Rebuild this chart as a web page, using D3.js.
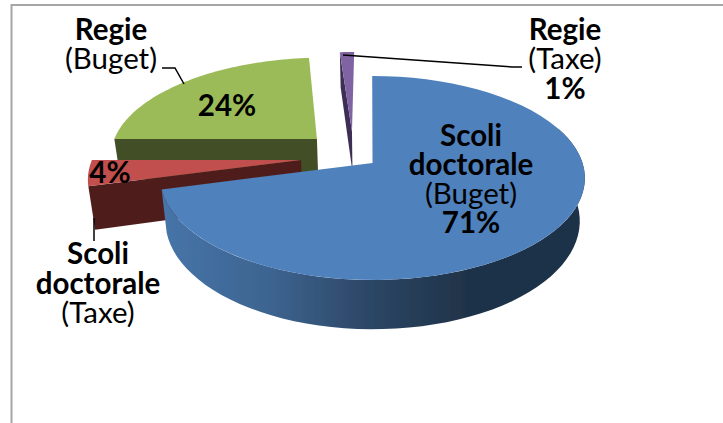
<!DOCTYPE html>
<meta charset="utf-8">
<style>
  html, body { margin: 0; padding: 0; background: #fff; }
  svg { display: block; }
  text { font-family: Lato, "Open Sans", sans-serif; font-size: 29.5px; fill: #000; text-anchor: middle; }
  .b { font-weight: 700; }
</style>
<div id="chart"></div>
<script src="https://d3js.org/d3.v7.min.js"></script>
<script>

// values (clockwise from 12 o'clock)
var names = ["Scoli doctorale", "Scoli doctorale", "Regie", "Regie"]
var funding = ["Buget", "Taxe", "Buget", "Taxe"]
var values = [70.9, 4.1, 23.7, 1.3]
var colors = ["#4f81bd", "#c0504d", "#9bbb59", "#8064a2"]
var sideColors = ["#1f3349", "#4f1f1e", "#424f25", "#3d2f55"]

// how far each slice is pulled out, in pie radii
var explodeX = [0.012, -0.33, -0.262, -0.09]
var explodeY = [0, -0.03, -0.249, -0.33]

var width = 723, height = 423

var svg = d3.select("#chart").append("svg")
    .attr("width", width)
    .attr("height", height)

// frame, only top and left are in the crop
svg.append("path")
    .attr("d", d3.line()([[11.5, height], [11.5, 5], [width, 5]]))
    .attr("fill", "none")
    .attr("stroke", "#a6a6a6")
    .attr("stroke-width", 2)

var defs = svg.append("defs")
defs.append("filter").attr("id", "soft")
  .append("feGaussianBlur").attr("stdDeviation", 0.5)

var wallFill = defs.append("linearGradient")
    .attr("id", "wallFill")
    .attr("gradientUnits", "userSpaceOnUse")
    .attr("x1", 165).attr("x2", 585).attr("y1", 0).attr("y2", 0)
wallFill.selectAll("stop")
  .data([[0, "#4674a8"], [0.25, "#3d6490"], [0.48, "#2c4766"], [0.72, "#1f3349"], [1, "#1f3349"]])
  .enter().append("stop")
    .attr("offset", function(d) { return d[0] })
    .attr("stop-color", function(d) { return d[1] })

// 3d view: a ground plane point goes through a perspective divide
var cx = 370, cy = 163, rx = 210, ry = 99.8, persp = 0.147, depth = 42
var vanishX = 373, bottomShrink = 0.976

function project(u, v, low) {
  var s = 1 / (1 - persp * v)
  var x = cx + rx * u * s
  var y = cy + ry * v * s
  if (low) {
    x = vanishX + (x - vanishX) * bottomShrink
    y = y + depth * s
  }
  return [x, y]
}

function rimPoint(i, a, low) {
  return project(Math.sin(a) + explodeX[i], -Math.cos(a) + explodeY[i], low)
}

function apex(i, low) { return project(explodeX[i], explodeY[i], low) }

function rim(i, a0, a1, low) {
  return d3.range(0, 61).map(function(k) {
    return rimPoint(i, a0 + (a1 - a0) * k / 60, low)
  })
}

var arcs = d3.pie().sort(null)(values)
var line = d3.line()
var marks = svg.append("g").attr("filter", "url(#soft)")

function addShape(points, fill) {
  marks.append("path").attr("d", line(points) + "Z").attr("fill", fill)
}

// back to front: purple, green, red, blue
var a

a = arcs[3]
addShape([apex(3), apex(3, true), rimPoint(3, a.startAngle, true), rimPoint(3, a.startAngle)], sideColors[3])
addShape([apex(3)].concat(rim(3, a.startAngle, a.endAngle)), colors[3])

a = arcs[2]
addShape([apex(2), apex(2, true), rimPoint(2, a.startAngle, true), rimPoint(2, a.startAngle)], sideColors[2])
addShape([apex(2)].concat(rim(2, a.startAngle, a.endAngle)), colors[2])

a = arcs[1]
addShape([apex(1), apex(1, true), rimPoint(1, a.startAngle, true), rimPoint(1, a.startAngle)], sideColors[1])
addShape([apex(1)].concat(rim(1, a.startAngle, a.endAngle)), colors[1])

a = arcs[0]
var wallTop = rim(0, a.endAngle, 1.2, false)
var wallLow = rim(0, 1.2, a.endAngle, true)
addShape(wallTop.concat(wallLow), "url(#wallFill)")
addShape([apex(0)].concat(rim(0, a.startAngle, a.endAngle)), colors[0])

// leader lines
var leaders = [
  [[162, 68], [175, 68], [184, 84]],
  [[343, 55], [513, 67], [522, 67]],
  [[94, 218], [94, 241]]
]
svg.selectAll(".leader")
  .data(leaders)
  .enter().append("path")
    .attr("class", "leader")
    .attr("d", function(d) { return line(d) })
    .attr("fill", "none")
    .attr("stroke", "#000")
    .attr("stroke-width", 1.5)

function pct(i) { return Math.round(values[i]) + "%" }
function paren(i) { return "(" + funding[i] + ")" }

// one text per label, one tspan per line: [text, bold?, baseline]
var labels = [
  { x: 471, lines: [["Scoli", true, 146], ["doctorale", true, 175], [paren(0), false, 204], [pct(0), true, 233]] },
  { x: 110, lines: [[pct(1), true, 183]] },
  { x: 98, lines: [["Scoli", true, 264], ["doctorale", true, 294], [paren(1), false, 323]] },
  { x: 111, lines: [[names[2], true, 40], [paren(2), false, 69]] },
  { x: 227, lines: [[pct(2), true, 116]] },
  { x: 565, lines: [[names[3], true, 40], [paren(3), false, 69], [pct(3), true, 99]] }
]
svg.selectAll(".lab")
  .data(labels)
  .enter().append("text")
    .attr("class", "lab")
  .selectAll("tspan")
  .data(function(d) { return d.lines.map(function(l) { return { x: d.x, t: l[0], bold: l[1], y: l[2] } }) })
  .enter().append("tspan")
    .attr("class", function(d) { return d.bold ? "b" : null })
    .attr("x", function(d) { return d.x })
    .attr("y", function(d) { return d.y })
    .text(function(d) { return d.t })

</script>
